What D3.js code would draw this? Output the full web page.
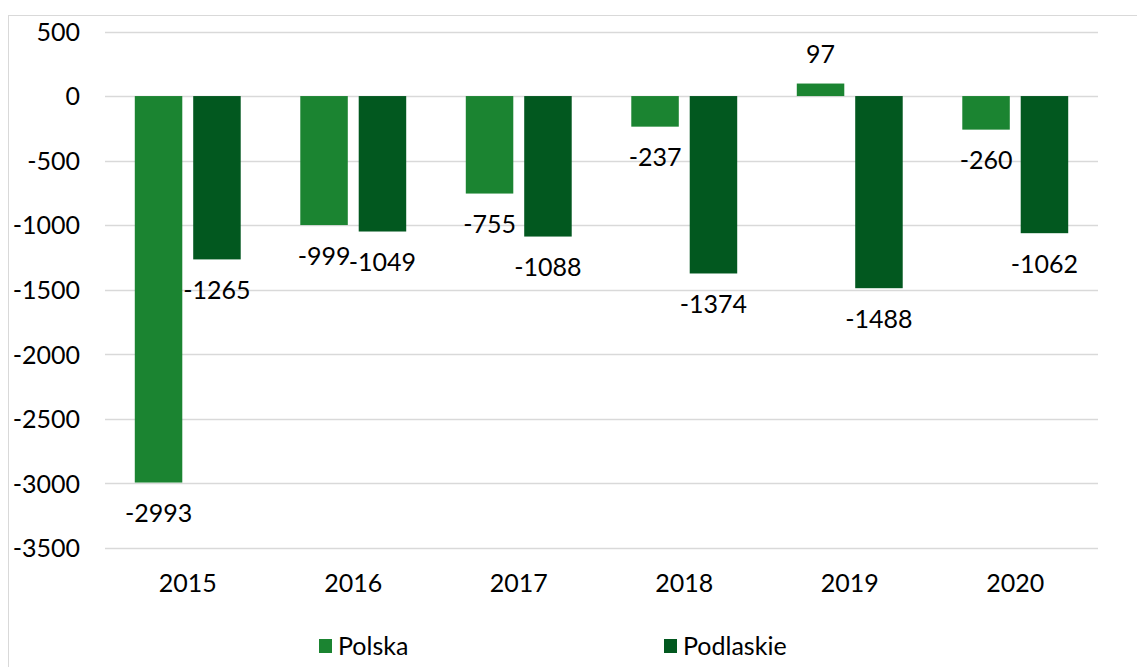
<!DOCTYPE html>
<html>
<head>
<meta charset="utf-8">
<script src="https://cdn.jsdelivr.net/npm/d3@7"></script>
<style>
  html, body { margin: 0; padding: 0; background: #fff; }
  svg { display: block; font-family: "Lato", "Open Sans", sans-serif; }
</style>
</head>
<body>
<svg id="chart" width="1137" height="667"></svg>
<script>
// Saldo migracji – Polska vs Podlaskie, 2015–2020
const years = ["2015", "2016", "2017", "2018", "2019", "2020"];
const polska = [-2993, -999, -755, -237, 97, -260];
const podlaskie = [-1265, -1049, -1088, -1374, -1488, -1062];
const seriesNames = ["Polska", "Podlaskie"];
const seriesColors = ["#1b8431", "#02581f"];
const yTicks = [500, 0, -500, -1000, -1500, -2000, -2500, -3000, -3500];

const svg = d3.select("#chart");
const FS = 25;

// outer chart frame
svg.append("rect")
  .attr("x", 8.5).attr("y", 15.5)
  .attr("width", 1200).attr("height", 700)
  .attr("fill", "none").attr("stroke", "#d9d9d9").attr("stroke-width", 1);

const plot = { left: 105, right: 1098, top: 31.5, bottom: 548 };

const x = d3.scaleBand().domain(years).range([plot.left, plot.right]).paddingInner(0).paddingOuter(0);
const y = d3.scaleLinear().domain([-3500, 500]).range([plot.bottom, plot.top]);

const barW = x.bandwidth() * 0.287;
const gap = x.bandwidth() * 0.066;
const x1 = d3.scaleOrdinal().domain(seriesNames)
  .range([x.bandwidth() / 2 - gap / 2 - barW, x.bandwidth() / 2 + gap / 2]);

// gridlines
svg.append("g").selectAll("line").data(yTicks).join("line")
  .attr("x1", plot.left).attr("x2", plot.right)
  .attr("y1", d => Math.round(y(d)) + 0.5).attr("y2", d => Math.round(y(d)) + 0.5)
  .attr("stroke", "#d9d9d9").attr("stroke-width", 1.5);

// y axis labels (plain hyphen for negatives)
const yAxis = d3.axisLeft(y).tickValues(yTicks).tickSize(0).tickPadding(0).tickFormat(d => String(d));
const gy = svg.append("g").attr("transform", `translate(80,0)`).call(yAxis);
gy.select(".domain").remove();
gy.selectAll("text").attr("font-size", FS).attr("fill", "#000").attr("font-family", "Lato, sans-serif").attr("dy", "0.35em");

// x axis labels
const xAxis = d3.axisBottom(x).tickSize(0).tickPadding(0);
const gx = svg.append("g").attr("transform", `translate(0,583)`).call(xAxis);
gx.select(".domain").remove();
gx.selectAll("text").attr("font-size", FS).attr("fill", "#000").attr("font-family", "Lato, sans-serif").attr("dy", "0.35em");

const rows = years.map((yr, i) => ({ year: yr, values: [polska[i], podlaskie[i]] }));

const groups = svg.append("g").selectAll("g").data(rows).join("g")
  .attr("transform", d => `translate(${x(d.year)},0)`);

groups.selectAll("rect").data(d => d.values.map((v, k) => ({ v, k }))).join("rect")
  .attr("x", d => x1(seriesNames[d.k]))
  .attr("width", barW)
  .attr("y", d => Math.min(y(d.v), y(0)))
  .attr("height", d => Math.abs(y(d.v) - y(0)))
  .attr("fill", d => seriesColors[d.k]);

// value labels, outside the bar end
groups.selectAll("text").data(d => d.values.map((v, k) => ({ v, k }))).join("text")
  .attr("x", d => x1(seriesNames[d.k]) + barW / 2)
  .attr("y", d => d.v < 0 ? y(d.v) + 31 : y(d.v) - 29)
  .attr("dy", "0.35em")
  .attr("text-anchor", "middle")
  .attr("font-size", FS)
  .attr("fill", "#000")
  .text(d => String(d.v));

// legend
const legendX = [319, 664];
const lg = svg.append("g").selectAll("g").data(seriesNames).join("g")
  .attr("transform", (d, i) => `translate(${legendX[i]},639)`);
lg.append("rect").attr("width", 13).attr("height", 14).attr("fill", (d, i) => seriesColors[i]);
lg.append("text").attr("x", 19).attr("y", 7).attr("dy", "0.35em")
  .attr("font-size", FS).attr("fill", "#000").text(d => d);
</script>
</body>
</html>
